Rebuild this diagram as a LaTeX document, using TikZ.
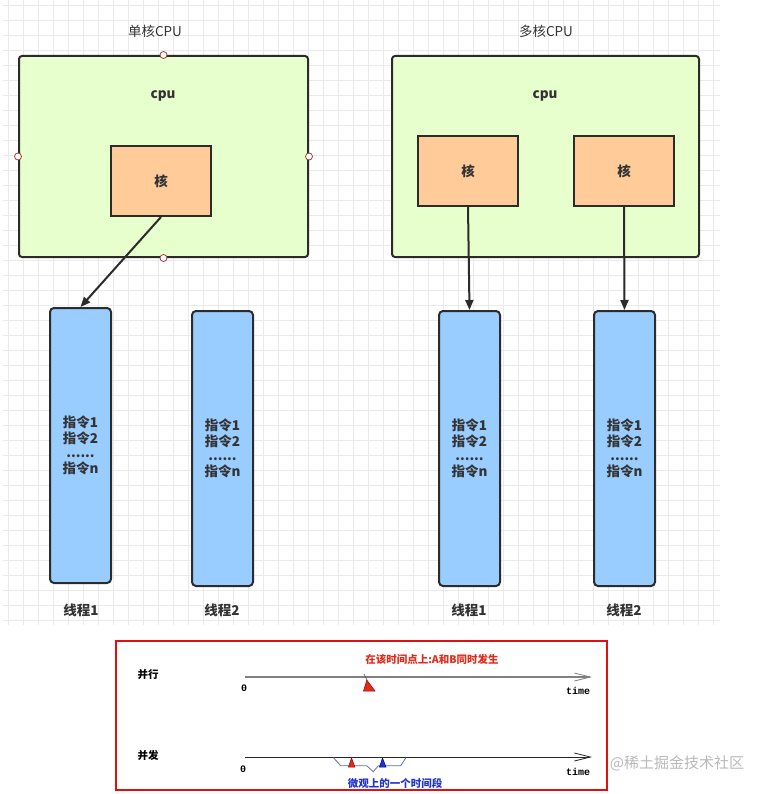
\documentclass[tikz,border=0pt]{standalone}
\usepackage{fontspec}
\setmainfont{Noto Sans CJK SC}
\newfontfamily\monof{Liberation Mono}
\usetikzlibrary{arrows.meta}
\definecolor{gridc}{HTML}{EAEAEA}
\definecolor{edgec}{HTML}{2B2B2B}
\definecolor{cpuf}{HTML}{E6FFCC}
\definecolor{coref}{HTML}{FFCC99}
\definecolor{thf}{HTML}{99CCFF}
\definecolor{txt}{HTML}{333333}
\definecolor{handlec}{HTML}{A33A3A}
\definecolor{panelred}{HTML}{E01010}
\definecolor{tred}{HTML}{E02A1A}
\definecolor{tblue}{HTML}{2233CC}
\definecolor{zig}{HTML}{6070A0}
\definecolor{wm}{HTML}{B8B8B8}
\begin{document}
\begin{tikzpicture}[x=1pt,y=-1pt,
  cpubox/.style={draw=edgec, fill=cpuf, line width=2pt, rounded corners=3pt, minimum height=201pt},
  corebox/.style={draw=edgec, fill=coref, line width=2pt, minimum width=100pt, minimum height=70pt, text=txt, font=\fontsize{13.5}{16}\selectfont\bfseries},
  thbox/.style={draw=edgec, fill=thf, line width=2pt, rounded corners=4pt, minimum width=61pt, minimum height=275pt, align=center, text=txt, font=\fontsize{13.5}{16}\selectfont\bfseries},
  handle/.style={circle, draw=handlec, fill=white, line width=0.8pt, minimum size=7pt, inner sep=0pt},
  lbl/.style={text=txt, font=\fontsize{13.5}{16}\selectfont\bfseries},
  ttl/.style={text=txt, font=\fontsize{13.5}{16}\selectfont},
  conn/.style={draw=edgec, line width=2pt, -{Triangle[length=10pt,width=8pt]}},
  small/.style={font=\fontsize{10.5}{12}\selectfont\bfseries},
  mono/.style={font=\fontsize{10}{12}\monof\bfseries, text=black},
]
\useasboundingbox (0,0) rectangle (770,794);
% grid
\foreach \i in {0,...,47} \draw[gridc, line width=0.6pt] ({8+15*\i},0) -- ({8+15*\i},625);
\foreach \j in {0,...,41} \draw[gridc, line width=0.6pt] (3,{5+15*\j}) -- (720,{5+15*\j});

% titles
\node[ttl] (t1title) at (155,31) {单核CPU};
\node[ttl] (t2title) at (546,31) {多核CPU};

% left CPU
\node[cpubox, minimum width=289pt] (cpu1) at (163.5,156.5) {};
\node[lbl] (cpu1lbl) at (163,96) {cpu};
\node[corebox] (core1) at (161,181) {核};
\node[handle] (h1) at (cpu1.north) {};
\node[handle] (h2) at (cpu1.west) {};
\node[handle] (h3) at (cpu1.east) {};
\node[handle] (h4) at (cpu1.south) {};

% right CPU
\node[cpubox, minimum width=307pt] (cpu2) at (545.5,156.5) {};
\node[lbl] (cpu2lbl) at (545,96) {cpu};
\node[corebox] (core2) at (468,171) {核};
\node[corebox] (core3) at (624,171) {核};

% threads
\node[thbox] (th1) at (80.5,445.5) {指令1\\指令2\\[-2pt]......\\指令n};
\node[thbox] (th2) at (222.5,448.5) {指令1\\指令2\\[-2pt]......\\指令n};
\node[thbox] (th3) at (469.5,448.5) {指令1\\指令2\\[-2pt]......\\指令n};
\node[thbox] (th4) at (624.5,448.5) {指令1\\指令2\\[-2pt]......\\指令n};

\node[lbl] (l1) at (81,610) {线程1};
\node[lbl] (l2) at (222,610) {线程2};
\node[lbl] (l3) at (469,610) {线程1};
\node[lbl] (l4) at (624,610) {线程2};

% connectors
\draw[conn] (core1.south) -- (th1.north);
\draw[conn] (core2.south) -- (th3.north);
\draw[conn] (core3.south) -- (th4.north);

% bottom panel
\node[draw=panelred, line width=2pt, minimum width=491pt, minimum height=149pt, inner sep=0pt] (panel) at (361.5,715.5) {};
\node[small, text=black] (bx) at (148,675) {并行};
\node[small, text=black] (bf) at (148,756) {并发};

\coordinate (a1) at (245,677);
\coordinate (b1) at (592,677);
\draw[black!50, line width=1.6pt, -{Straight Barb[length=16pt,width=8pt,line width=0.8pt]}] (a1) -- (b1);
\node[mono] (z1) at (244,688) {0};
\node[mono] (time1) at (578,691) {time};
\node[small, text=tred] (redtxt) at (432,659) {在该时间点上:A和B同时发生};
\draw[black!70, line width=0.6pt] (364,674) -- (367,680);
\draw[fill=tred, draw=red!60!black, line width=0.5pt] (363.5,691) -- (366.8,680) -- (375,691) -- cycle;

\coordinate (a2) at (245,757);
\coordinate (b2) at (592,757);
\draw[black!85, line width=1pt, -{Straight Barb[length=16pt,width=8pt,line width=0.8pt]}] (a2) -- (b2);
\node[mono] (z2) at (243,769) {0};
\node[mono] (time2) at (578,772) {time};
\draw[zig, line width=0.8pt] (333.3,757.5) -- (340.7,765.7) -- (366.7,765.7) -- (373.3,771.7) -- (378.3,765.7) -- (400.7,765.7) -- (406,757.5);
\draw[fill=tred, draw=red!60!black, line width=0.5pt] (348.5,767) -- (351.5,758) -- (355,767) -- cycle;
\draw[fill=tblue, draw=blue!50!black, line width=0.5pt] (379.5,767) -- (382.5,758) -- (386,767) -- cycle;
\node[small, text=tblue] (bluetxt) at (395,783) {微观上的一个时间段};

% watermark
\node[text=wm, font=\fontsize{15}{18}\selectfont] (wmk) at (677,763) {@稀土掘金技术社区};
\end{tikzpicture}
\end{document}
